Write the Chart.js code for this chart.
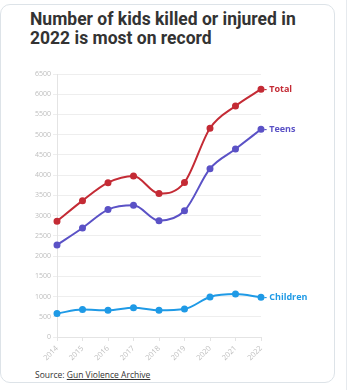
<!DOCTYPE html>
<html>
<head>
<meta charset="utf-8">
<script src="https://cdn.jsdelivr.net/npm/chart.js@4.4.1/dist/chart.umd.min.js"></script>
<style>
html,body{margin:0;padding:0;background:#fff;}
body{width:349px;height:390px;position:relative;overflow:hidden;font-family:"Open Sans",sans-serif;}
#card{position:absolute;left:0px;top:4px;width:335px;height:379px;border:1px solid #dde3e8;border-radius:10px;box-sizing:border-box;}
#edge{position:absolute;left:346px;top:0;width:1px;height:390px;background:#e6eaee;}
#title{position:absolute;left:30px;top:10px;width:300px;font-family:Roboto,sans-serif;font-weight:700;font-size:17.5px;line-height:19px;color:#333;}
#wrap{position:absolute;left:0;top:60px;width:336px;height:305px;}
#source{position:absolute;left:35px;top:369px;font-size:8.5px;color:#333;}
#source u{text-decoration:underline;}
</style>
</head>
<body>
<div id="card"></div>
<div id="edge"></div>
<div id="title">Number of kids killed or injured in 2022 is most on record</div>
<div id="wrap"><canvas id="c"></canvas></div>
<div id="source">Source: <u>Gun Violence Archive</u></div>
<script>
const years = ["2014","2015","2016","2017","2018","2019","2020","2021","2022"];
const totalValues = [2860, 3370, 3815, 3980, 3545, 3820, 5160, 5710, 6125];
const teensValues = [2275, 2695, 3150, 3255, 2875, 3120, 4160, 4645, 5135];
const childrenValues = [580, 680, 660, 720, 660, 690, 990, 1060, 985];
const seriesNames = ["Total", "Teens", "Children"];
const seriesColors = ["#c42b35", "#5b52c6", "#1f9ae6"];

const endLabels = {
  id: 'endLabels',
  afterDatasetsDraw(chart) {
    const ctx = chart.ctx;
    ctx.save();
    ctx.font = "bold 9px 'Open Sans'";
    ctx.textBaseline = 'middle';
    chart.data.datasets.forEach((ds, i) => {
      const meta = chart.getDatasetMeta(i);
      const pt = meta.data[meta.data.length - 1];
      ctx.fillStyle = ds.borderColor;
      ctx.fillText("- " + ds.label, pt.x + 3, pt.y);
    });
    ctx.restore();
  }
};

const datasets = [totalValues, teensValues, childrenValues].map((vals, i) => ({
  label: seriesNames[i],
  data: vals,
  borderColor: seriesColors[i],
  backgroundColor: seriesColors[i],
  borderWidth: 2,
  pointRadius: 2.5,
  pointHoverRadius: 2.5,
  tension: 0.4,
  cubicInterpolationMode: 'monotone',
  fill: false
}));

new Chart(document.getElementById('c'), {
  type: 'line',
  data: { labels: years, datasets },
  options: {
    responsive: true,
    maintainAspectRatio: false,
    animation: false,
    devicePixelRatio: 1,
    layout: { padding: { top: 14, right: 75, left: 0, bottom: 0 } },
    plugins: { legend: { display: false }, tooltip: { enabled: false } },
    scales: {
      x: {
        grid: { drawOnChartArea: false, drawTicks: true, tickLength: 4, color: '#e4e4e4' },
        border: { color: '#e4e4e4' },
        ticks: { color: '#bdbdbd', font: { size: 7.5, family: "'Open Sans'" }, maxRotation: 45, minRotation: 45, padding: 3 },
        afterFit(s) { s.height = 28; }
      },
      y: {
        min: 0, max: 6500,
        grid: { color: '#eeeeee', tickLength: 4 },
        border: { color: '#e4e4e4' },
        ticks: { stepSize: 500, color: '#bdbdbd', font: { size: 7, family: "'Open Sans'" }, padding: 2, callback: v => String(v) },
        afterFit(s) { s.width = 57; }
      }
    }
  },
  plugins: [endLabels]
});
</script>
</body>
</html>
